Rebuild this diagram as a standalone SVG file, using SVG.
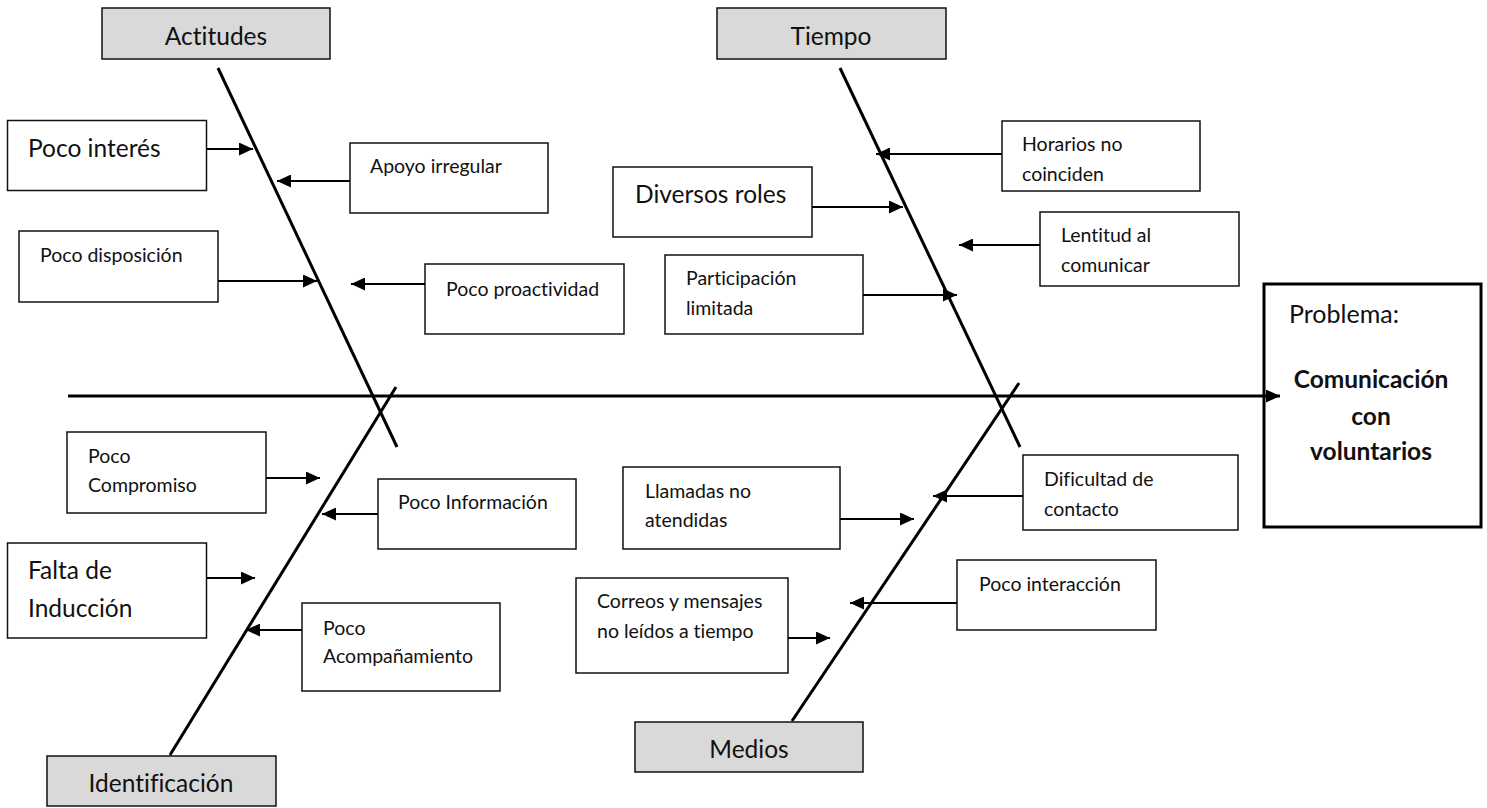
<svg xmlns="http://www.w3.org/2000/svg" width="1487" height="808" viewBox="0 0 1487 808">
<defs>
<marker id="ah" markerUnits="userSpaceOnUse" markerWidth="14" markerHeight="13" refX="14" refY="6.5" orient="auto">
<path d="M0,0 L14,6.5 L0,13 z" fill="#000"/>
</marker>
<style>
text{font-variant-ligatures:none}
.box{fill:#fff;stroke:#111;stroke-width:1.5}
.cat{fill:#d9d9d9;stroke:#111;stroke-width:1.5}
.t{font-family:Lato,"Liberation Sans",sans-serif;font-size:19.5px;fill:#111}
.tl{font-family:Lato,"Liberation Sans",sans-serif;font-size:24.5px;fill:#111}
.tc{font-family:Lato,"Liberation Sans",sans-serif;font-size:24.5px;fill:#111;text-anchor:middle}
.tp{font-family:Lato,"Liberation Sans",sans-serif;font-size:25px;fill:#111}
.tb{font-family:Lato,"Liberation Sans",sans-serif;font-size:24.5px;font-weight:bold;fill:#111;text-anchor:middle}
.spine{stroke:#000;stroke-width:3;fill:none}
.arr{stroke:#000;stroke-width:2;fill:none;marker-end:url(#ah)}
</style>
</defs>
<rect width="1487" height="808" fill="#fff"/>
<g id="cat-actitudes"><rect class="cat" x="102" y="8" width="228" height="51"/><text class="tc" x="216" y="45">Actitudes</text></g>
<g id="cat-tiempo"><rect class="cat" x="717" y="8" width="229" height="51"/><text class="tc" x="831" y="45">Tiempo</text></g>
<g id="cat-identificacion"><rect class="cat" x="47" y="756" width="229" height="50"/><text class="tc" x="161" y="792">Identificación</text></g>
<g id="cat-medios"><rect class="cat" x="635" y="722" width="228" height="50"/><text class="tc" x="749" y="758">Medios</text></g>
<g id="poco-interes"><rect class="box" x="7.5" y="120.5" width="199" height="70"/><text class="tl" x="28" y="157">Poco interés</text></g>
<g id="apoyo-irregular"><rect class="box" x="350" y="143" width="198" height="70"/><text class="t" x="370" y="173">Apoyo irregular</text></g>
<g id="poco-disposicion"><rect class="box" x="19" y="231" width="199" height="71"/><text class="t" x="40" y="262">Poco disposición</text></g>
<g id="poco-proactividad"><rect class="box" x="425" y="264" width="199" height="70"/><text class="t" x="446" y="296">Poco proactividad</text></g>
<g id="horarios"><rect class="box" x="1002" y="121" width="198" height="70"/><text class="t" x="1022" y="151">Horarios no</text><text class="t" x="1022" y="181">coinciden</text></g>
<g id="diversos-roles"><rect class="box" x="613" y="167" width="199" height="70"/><text class="tl" x="635" y="203">Diversos roles</text></g>
<g id="lentitud"><rect class="box" x="1040" y="212" width="199" height="74"/><text class="t" x="1061" y="242">Lentitud al</text><text class="t" x="1061" y="272">comunicar</text></g>
<g id="participacion"><rect class="box" x="665" y="255" width="198" height="79"/><text class="t" x="686" y="285">Participación</text><text class="t" x="686" y="315">limitada</text></g>
<g id="poco-compromiso"><rect class="box" x="67" y="432" width="199" height="81"/><text class="t" x="88" y="463">Poco</text><text class="t" x="88" y="492">Compromiso</text></g>
<g id="poco-informacion"><rect class="box" x="378" y="479" width="198" height="70"/><text class="t" x="398" y="509">Poco Información</text></g>
<g id="falta-induccion"><rect class="box" x="7.5" y="543" width="199" height="95"/><text class="tl" x="28" y="579">Falta de</text><text class="tl" x="28" y="617">Inducción</text></g>
<g id="poco-acompanamiento"><rect class="box" x="302" y="603" width="198" height="88"/><text class="t" x="323" y="635">Poco</text><text class="t" x="323" y="663">Acompañamiento</text></g>
<g id="llamadas"><rect class="box" x="623" y="467" width="217" height="82"/><text class="t" x="645" y="498">Llamadas no</text><text class="t" x="645" y="527">atendidas</text></g>
<g id="dificultad"><rect class="box" x="1023" y="455" width="215" height="75"/><text class="t" x="1044" y="486">Dificultad de</text><text class="t" x="1044" y="516">contacto</text></g>
<g id="poco-interaccion"><rect class="box" x="957" y="560" width="199" height="70"/><text class="t" x="979" y="591">Poco interacción</text></g>
<g id="correos"><rect class="box" x="576" y="578" width="212" height="95"/><text class="t" x="597" y="608">Correos y mensajes</text><text class="t" x="597" y="638">no leídos a tiempo</text></g>
<g id="problema"><rect x="1264" y="284" width="217" height="243" fill="#fff" stroke="#000" stroke-width="3"/><text class="tp" x="1289" y="323">Problema:</text><text class="tb" x="1371" y="388">Comunicación</text><text class="tb" x="1371" y="425">con</text><text class="tb" x="1371" y="460">voluntarios</text></g>
<g id="connectors">
<line class="spine" x1="68" y1="396" x2="1280" y2="396" marker-end="url(#ah)"/>
<line class="spine" x1="218" y1="68" x2="397" y2="447"/>
<line class="spine" x1="840" y1="68" x2="1020" y2="447"/>
<line class="spine" x1="170" y1="755" x2="396" y2="387"/>
<line class="spine" x1="792" y1="721" x2="1019" y2="383"/>
<line class="arr" x1="206" y1="149" x2="253" y2="149"/>
<line class="arr" x1="350" y1="181" x2="277" y2="181"/>
<line class="arr" x1="218" y1="281" x2="317" y2="281"/>
<line class="arr" x1="425" y1="284" x2="351" y2="284"/>
<line class="arr" x1="1002" y1="154" x2="876" y2="154"/>
<line class="arr" x1="812" y1="207" x2="903" y2="207"/>
<line class="arr" x1="1040" y1="245" x2="959" y2="245"/>
<line class="arr" x1="863" y1="295" x2="957" y2="295"/>
<line class="arr" x1="266" y1="478" x2="320" y2="478"/>
<line class="arr" x1="378" y1="514" x2="322" y2="514"/>
<line class="arr" x1="206" y1="578" x2="255" y2="578"/>
<line class="arr" x1="302" y1="630" x2="246" y2="630"/>
<line class="arr" x1="840" y1="519" x2="914" y2="519"/>
<line class="arr" x1="1023" y1="496" x2="933" y2="496"/>
<line class="arr" x1="957" y1="603" x2="850" y2="603"/>
<line class="arr" x1="788" y1="638" x2="830" y2="638"/>
</g>
</svg>
